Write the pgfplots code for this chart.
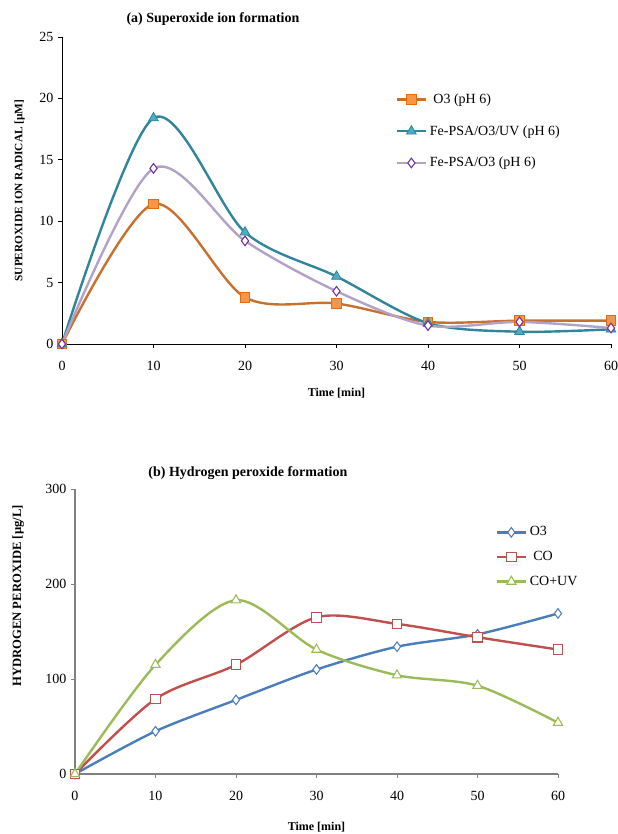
\documentclass[border=0pt]{standalone}
\usepackage{fontspec}
\setmainfont{Liberation Serif}
\usepackage{pgfplots}
\pgfplotsset{compat=1.18}

\definecolor{oline}{RGB}{200,112,45}
\definecolor{oedge}{RGB}{228,108,10}
\definecolor{ofill}{RGB}{247,150,70}
\definecolor{tline}{RGB}{49,133,155}
\definecolor{tfill}{RGB}{75,172,198}
\definecolor{pline}{RGB}{179,162,199}
\definecolor{pedge}{RGB}{112,48,160}
\definecolor{bline}{RGB}{74,126,187}
\definecolor{rline}{RGB}{192,80,77}
\definecolor{gline}{RGB}{155,187,89}

\pgfplotsset{
  panel/.style={
    scale only axis,
    axis lines*=left,
    axis line style={-, black, line width=0.7pt},
    tick align=outside,
    major tick length=3pt,
    tick style={black, line width=0.6pt},
    clip=false,
    xmin=0, xmax=60,
    xtick={0,10,...,60},
    /pgf/number format/assume math mode=true,
    ticklabel style={font=\fontsize{10.5}{12}\selectfont},
    xticklabel style={yshift=-6pt},
    xlabel style={font=\fontsize{9}{11}\selectfont\bfseries, anchor=center},
    ylabel style={font=\fontsize{8.5}{10}\selectfont\bfseries, anchor=center},
    title style={font=\fontsize{10.5}{12}\selectfont\bfseries, anchor=center, yshift=0pt},
    legend cell align=left,
    legend style={draw=none, fill=none, anchor=north west,
      font=\fontsize{10.5}{12}\selectfont, inner sep=0pt},
    legend image code/.code={
      \draw[mark repeat=2,mark phase=2] plot coordinates {(0pt,0pt)(11pt,0pt)(22pt,0pt)};
    },
    every axis plot/.append style={smooth, tension=0.5, line width=1.8pt},
  },
}

\begin{document}
\begin{tikzpicture}
\useasboundingbox (0,0) rectangle (462.75pt,-625.5pt);

% (a) superoxide
\begin{axis}[panel,
  at={(46.5pt,-258pt)}, anchor=south west,
  width=411.75pt, height=230.25pt,
  ymin=0, ymax=25, ytick={0,5,...,25},
  title={(a) Superoxide ion formation},
  title style={at={(rel axis cs:0.275,1.032)}},
  xlabel={Time [min]},
  xlabel style={at={(rel axis cs:0.5,-0.16)}},
  ylabel={SUPEROXIDE ION RADICAL [µM]},
  ylabel style={at={(rel axis cs:-0.077,0.5)}},
  legend style={at={(rel axis cs:0.607,0.825)}, row sep=11pt},
]
\addplot[color=oline, mark=square*, mark size=3.6pt,
  mark options={draw=oedge, fill=ofill, line width=0.7pt}]
  coordinates {(0,0) (10,11.4) (20,3.8) (30,3.3) (40,1.8) (50,1.9) (60,1.9)};
\addlegendentry{\ O3 (pH 6)}
\addplot[color=tline, mark=triangle*, mark size=4.2pt,
  mark options={draw=tline, fill=tfill, line width=0.6pt}]
  coordinates {(0,0) (10,18.4) (20,9.1) (30,5.5) (40,1.7) (50,1.0) (60,1.2)};
\addlegendentry{Fe-PSA/O3/UV (pH 6)}
\addplot[color=pline, mark=diamond*, mark size=3.6pt,
  mark options={draw=pedge, fill=white, line width=0.8pt}]
  coordinates {(0,0) (10,14.3) (20,8.4) (30,4.3) (40,1.5) (50,1.8) (60,1.3)};
\addlegendentry{Fe-PSA/O3 (pH 6)}
\end{axis}

% (b) hydrogen peroxide
\begin{axis}[panel,
  at={(56.25pt,-580.5pt)}, anchor=south west,
  width=362.25pt, height=213.75pt,
  axis line style={-, gray, line width=0.9pt},
  tick style={gray, line width=0.7pt},
  ymin=0, ymax=300, ytick={0,100,200,300},
  title={(b) Hydrogen peroxide formation},
  title style={at={(rel axis cs:0.358,1.028)}},
  xlabel={Time [min]},
  xlabel style={at={(rel axis cs:0.5,-0.186)}},
  ylabel={HYDROGEN PEROXIDE [µg/L]},
  ylabel style={at={(rel axis cs:-0.118,0.625)}, font=\fontsize{9.5}{11}\selectfont\bfseries},
  legend style={at={(rel axis cs:0.87,0.878)}, row sep=6pt},
]
\addplot[color=bline, mark=diamond*, mark size=3.6pt,
  mark options={draw=bline, fill=white, line width=0.8pt}]
  coordinates {(0,0) (10,45) (20,78) (30,110) (40,134) (50,147) (60,169)};
\addlegendentry{O3}
\addplot[color=rline, mark=square*, mark size=3.6pt,
  mark options={draw=rline, fill=white, line width=0.8pt}]
  coordinates {(0,0) (10,79) (20,115) (30,165) (40,158) (50,144) (60,131)};
\addlegendentry{\ CO}
\addplot[color=gline, mark=triangle*, mark size=4pt,
  mark options={draw=gline, fill=white, line width=0.8pt}]
  coordinates {(0,0) (10,115) (20,183) (30,131) (40,104) (50,93) (60,54)};
\addlegendentry{CO+UV}
\end{axis}
\end{tikzpicture}
\end{document}
